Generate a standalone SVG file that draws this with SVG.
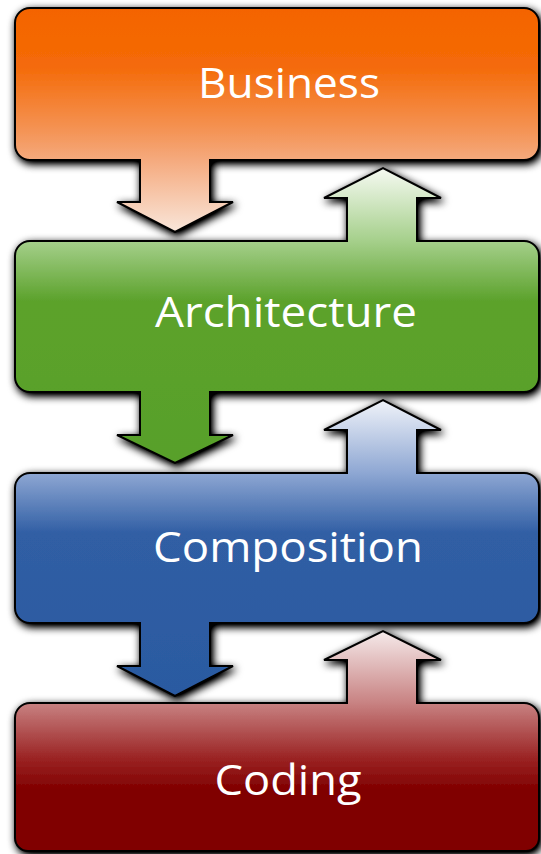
<svg xmlns="http://www.w3.org/2000/svg" width="541" height="854" viewBox="0 0 541 854">
  <defs>
    <filter id="shadow" x="-10%" y="-10%" width="120%" height="120%">
      <feGaussianBlur in="SourceAlpha" stdDeviation="4.5"/>
      <feOffset dx="2" dy="3" result="blur"/>
      <feComponentTransfer><feFuncA type="linear" slope="1.3"/></feComponentTransfer>
      <feMerge><feMergeNode/><feMergeNode in="SourceGraphic"/></feMerge>
    </filter>
    <linearGradient id="gBusiness" gradientUnits="userSpaceOnUse" x1="0" y1="8" x2="0" y2="232">
      <stop offset="0" stop-color="#f46400"/>
      <stop offset="0.26" stop-color="#f46a08"/>
      <stop offset="0.55" stop-color="#f49456"/>
      <stop offset="0.68" stop-color="#f5aa7e"/>
      <stop offset="1" stop-color="#f9e6da"/>
    </linearGradient>
    <linearGradient id="gArch" gradientUnits="userSpaceOnUse" x1="0" y1="168" x2="0" y2="463">
      <stop offset="0" stop-color="#f6faf2"/>
      <stop offset="0.245" stop-color="#a6d08c"/>
      <stop offset="0.45" stop-color="#5ca22c"/>
      <stop offset="1" stop-color="#58a02a"/>
    </linearGradient>
    <linearGradient id="gComp" gradientUnits="userSpaceOnUse" x1="0" y1="400" x2="0" y2="697">
      <stop offset="0" stop-color="#f0f3f9"/>
      <stop offset="0.246" stop-color="#8ea7d3"/>
      <stop offset="0.45" stop-color="#305ea4"/>
      <stop offset="1" stop-color="#2b5aa1"/>
    </linearGradient>
    <linearGradient id="gCoding" gradientUnits="userSpaceOnUse" x1="0" y1="631" x2="0" y2="852">
      <stop offset="0" stop-color="#f5eaea"/>
      <stop offset="0.326" stop-color="#c88282"/>
      <stop offset="0.58" stop-color="#9a2222"/>
      <stop offset="0.72" stop-color="#800000"/>
      <stop offset="1" stop-color="#800000"/>
    </linearGradient>
  </defs>
  <style>
    .shape { stroke: #000; stroke-width: 2; stroke-linejoin: miter; filter: url(#shadow); }
    .label { fill: #ffffff; font-family: "Open Sans", "Noto Sans", sans-serif; font-size: 42px; text-anchor: middle; }
  </style>

  <!-- each layer is one outline: rounded box merged with its outgoing arrows -->
  <g id="business">
    <path class="shape" fill="url(#gBusiness)" d="M30,8 H524 A15,15 0 0 1 539,23 V145 A15,15 0 0 1 524,160 H210 V202 H233 L175,232 L117,202 H140 V160 H30 A15,15 0 0 1 15,145 V23 A15,15 0 0 1 30,8 Z"/>
    <text class="label" x="289" y="98" textLength="182" lengthAdjust="spacingAndGlyphs">Business</text>
  </g>

  <g id="architecture">
    <path class="shape" fill="url(#gArch)" d="M30,241 H347 V198 H324 L383,168 L441,198 H417 V241 H524 A15,15 0 0 1 539,256 V377 A15,15 0 0 1 524,392 H210 V435 H233 L175,463 L117,435 H140 V392 H30 A15,15 0 0 1 15,377 V256 A15,15 0 0 1 30,241 Z"/>
    <text class="label" x="286" y="327" textLength="262" lengthAdjust="spacingAndGlyphs">Architecture</text>
  </g>

  <g id="composition">
    <path class="shape" fill="url(#gComp)" d="M30,473 H347 V430 H324 L383,400 L441,430 H417 V473 H524 A15,15 0 0 1 539,488 V608 A15,15 0 0 1 524,623 H210 V666 H233 L175,696 L117,666 H140 V623 H30 A15,15 0 0 1 15,608 V488 A15,15 0 0 1 30,473 Z"/>
    <text class="label" x="288" y="562" textLength="270" lengthAdjust="spacingAndGlyphs">Composition</text>
  </g>

  <g id="coding">
    <path class="shape" fill="url(#gCoding)" d="M30,703 H347 V660 H324 L383,631 L441,660 H417 V703 H524 A15,15 0 0 1 539,718 V838 A13,13 0 0 1 526,851 H28 A13,13 0 0 1 15,838 V718 A15,15 0 0 1 30,703 Z"/>
    <text class="label" x="288" y="795" textLength="147" lengthAdjust="spacingAndGlyphs">Coding</text>
  </g>
</svg>
